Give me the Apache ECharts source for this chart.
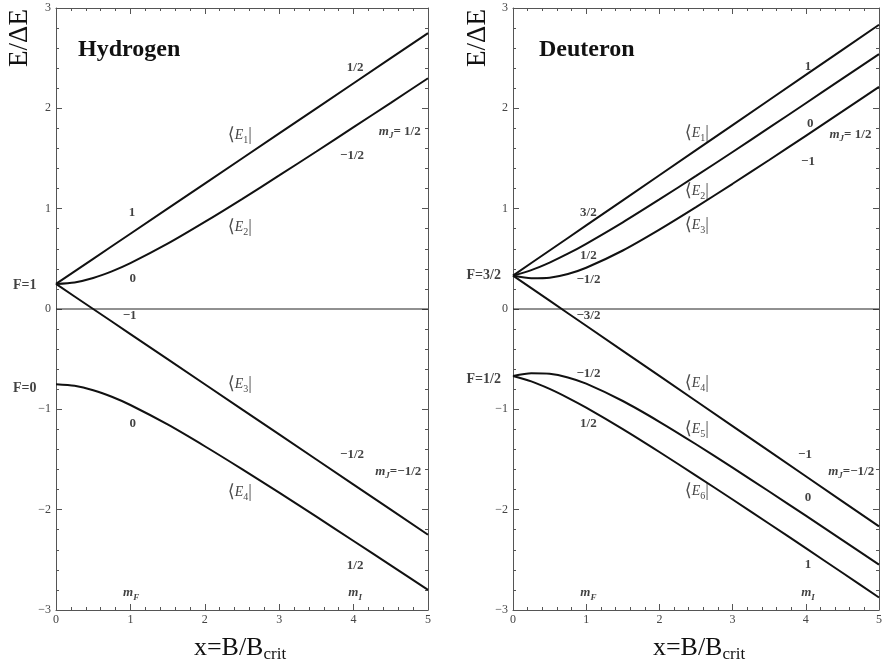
<!DOCTYPE html>
<html>
<head>
<meta charset="utf-8">
<script src="https://cdn.jsdelivr.net/npm/echarts@6/dist/echarts.min.js"></script>
<style>
  html, body { margin: 0; padding: 0; background: #fff; }
  #chart { width: 885px; height: 669px; }
</style>
</head>
<body>
<div id="chart"></div>
<script>
// field values x = B/Bcrit
const xs = [0, 0.25, 0.5, 0.75, 1, 1.5, 2, 2.5, 3, 3.5, 4, 4.5, 5];

// Hydrogen, E/ΔE
const hF1m1 = [0.25, 0.375, 0.5, 0.625, 0.75, 1.0, 1.25, 1.5, 1.75, 2.0, 2.25, 2.5, 2.75];
const hF1m0 = [0.25, 0.265, 0.309, 0.375, 0.457, 0.651, 0.868, 1.096, 1.331, 1.57, 1.812, 2.055, 2.3];
const hF1mm1 = [0.25, 0.125, 0, -0.125, -0.25, -0.5, -0.75, -1.0, -1.25, -1.5, -1.75, -2.0, -2.25];
const hF0m0 = [-0.75, -0.765, -0.809, -0.875, -0.957, -1.151, -1.368, -1.596, -1.831, -2.07, -2.312, -2.555, -2.8];

// Deuteron, E/ΔE
const dF32m32 = [0.333, 0.458, 0.583, 0.708, 0.833, 1.083, 1.333, 1.583, 1.833, 2.083, 2.333, 2.583, 2.833];
const dF32m12 = [0.333, 0.388, 0.463, 0.551, 0.65, 0.864, 1.092, 1.326, 1.565, 1.807, 2.051, 2.296, 2.541];
const dF32mm12 = [0.333, 0.307, 0.312, 0.349, 0.411, 0.583, 0.791, 1.015, 1.248, 1.485, 1.726, 1.969, 2.214];
const dF32mm32 = [0.333, 0.208, 0.083, -0.042, -0.167, -0.417, -0.667, -0.917, -1.167, -1.417, -1.667, -1.917, -2.167];
const dF12mm12 = [-0.667, -0.64, -0.645, -0.682, -0.744, -0.917, -1.124, -1.348, -1.581, -1.819, -2.06, -2.303, -2.547];
const dF12m12 = [-0.667, -0.721, -0.796, -0.885, -0.983, -1.197, -1.425, -1.66, -1.899, -2.14, -2.384, -2.629, -2.875];

const zeroXs = [0, 5];
const zeroYs = [0, 0];

// annotations [x, y, text]
const hLabels = [
  [4.02, 2.41, '{n|1/2}'],
  [2.47, 1.73, '{br|⟨}{e|E}{s|1}{br||}'],
  [4.62, 1.77, '{m|m}{j|J}{n|= 1/2}'],
  [3.98, 1.53, '{n|−1/2}'],
  [1.02, 0.96, '{n|1}'],
  [2.47, 0.81, '{br|⟨}{e|E}{s|2}{br||}'],
  [-0.42, 0.24, '{f|F=1}'],
  [1.03, 0.30, '{n|0}'],
  [0.99, -0.07, '{n|−1}'],
  [-0.42, -0.79, '{f|F=0}'],
  [2.47, -0.75, '{br|⟨}{e|E}{s|3}{br||}'],
  [1.03, -1.14, '{n|0}'],
  [3.98, -1.45, '{n|−1/2}'],
  [4.60, -1.62, '{m|m}{j|J}{n|=−1/2}'],
  [2.47, -1.83, '{br|⟨}{e|E}{s|4}{br||}'],
  [4.02, -2.56, '{n|1/2}'],
  [1.01, -2.83, '{m|m}{j|F}'],
  [4.02, -2.83, '{m|m}{j|I}']
];

const dLabels = [
  [4.03, 2.42, '{n|1}'],
  [2.51, 1.75, '{br|⟨}{e|E}{s|1}{br||}'],
  [4.06, 1.85, '{n|0}'],
  [4.61, 1.74, '{m|m}{j|J}{n|= 1/2}'],
  [4.03, 1.47, '{n|−1}'],
  [2.51, 1.17, '{br|⟨}{e|E}{s|2}{br||}'],
  [1.03, 0.96, '{n|3/2}'],
  [2.51, 0.83, '{br|⟨}{e|E}{s|3}{br||}'],
  [1.03, 0.53, '{n|1/2}'],
  [-0.40, 0.33, '{f|F=3/2}'],
  [1.03, 0.29, '{n|−1/2}'],
  [1.03, -0.07, '{n|−3/2}'],
  [-0.40, -0.70, '{f|F=1/2}'],
  [1.03, -0.64, '{n|−1/2}'],
  [2.51, -0.74, '{br|⟨}{e|E}{s|4}{br||}'],
  [1.03, -1.14, '{n|1/2}'],
  [2.51, -1.20, '{br|⟨}{e|E}{s|5}{br||}'],
  [3.99, -1.45, '{n|−1}'],
  [4.62, -1.62, '{m|m}{j|J}{n|=−1/2}'],
  [2.51, -1.82, '{br|⟨}{e|E}{s|6}{br||}'],
  [4.03, -1.88, '{n|0}'],
  [4.03, -2.55, '{n|1}'],
  [1.03, -2.83, '{m|m}{j|F}'],
  [4.03, -2.83, '{m|m}{j|I}']
];

const serif = "'Liberation Serif', 'DejaVu Serif', serif";
const axisColor = '#555';

const rich = {
  n: { fontFamily: serif, fontWeight: 'bold', fontSize: 13, color: '#111', lineHeight: 18 },
  f: { fontFamily: serif, fontWeight: 'bold', fontSize: 14, color: '#111', lineHeight: 18 },
  br: { fontFamily: serif, fontSize: 18, color: '#222', lineHeight: 20 },
  e: { fontFamily: serif, fontStyle: 'italic', fontSize: 14, color: '#111', lineHeight: 20 },
  s: { fontFamily: serif, fontSize: 10, color: '#111', lineHeight: 12, verticalAlign: 'bottom' },
  m: { fontFamily: serif, fontStyle: 'italic', fontWeight: 'bold', fontSize: 13, color: '#111', lineHeight: 18 },
  j: { fontFamily: serif, fontStyle: 'italic', fontWeight: 'bold', fontSize: 9, color: '#111', lineHeight: 12, verticalAlign: 'bottom' }
};

function pairs(x, y) {
  return x.map((v, i) => [v, y[i]]);
}

// straight levels need no smoothing, the curved ones get a light spline
function curve(vals, g, bent) {
  return {
    type: 'line', xAxisIndex: g * 2, yAxisIndex: g * 2,
    data: pairs(xs, vals), showSymbol: false, smooth: bent ? 0.25 : false,
    lineStyle: { color: '#111', width: 2 }, silent: true
  };
}

function zeroLine(g) {
  return {
    type: 'line', xAxisIndex: g * 2, yAxisIndex: g * 2,
    data: pairs(zeroXs, zeroYs), showSymbol: false,
    lineStyle: { color: '#222', width: 1 }, silent: true
  };
}

function labels(list, g) {
  return {
    type: 'scatter', xAxisIndex: g * 2, yAxisIndex: g * 2, clip: false,
    symbolSize: 1, itemStyle: { color: 'rgba(0,0,0,0)' }, silent: true,
    data: list.map(l => ({ value: [l[0], l[1]], name: l[2] })),
    label: { show: true, position: 'inside', formatter: p => p.name, rich: rich }
  };
}

function xAx(g, pos, showLabel) {
  return {
    type: 'value', gridIndex: g, position: pos, min: 0, max: 5, interval: 1,
    axisLine: { show: true, onZero: false, lineStyle: { color: axisColor, width: 1 } },
    axisTick: { show: true, inside: true, length: 6, lineStyle: { color: axisColor } },
    minorTick: { show: true, splitNumber: 5, length: 3, lineStyle: { color: axisColor } },
    splitLine: { show: false },
    axisLabel: { show: showLabel, color: '#444', fontFamily: serif, fontSize: 12, margin: 4 }
  };
}

function yAx(g, pos, showLabel) {
  return {
    type: 'value', gridIndex: g, position: pos, min: -3, max: 3, interval: 1,
    axisLine: { show: true, onZero: false, lineStyle: { color: axisColor, width: 1 } },
    axisTick: { show: true, inside: true, length: 6, lineStyle: { color: axisColor } },
    minorTick: { show: true, splitNumber: 5, length: 3, lineStyle: { color: axisColor } },
    splitLine: { show: false },
    axisLabel: {
      show: showLabel, color: '#444', fontFamily: serif, fontSize: 12, margin: 5,
      formatter: v => (v < 0 ? '−' + (-v) : String(v))
    }
  };
}

function axisTitleY(x) {
  return {
    type: 'text', x: x, y: 38, rotation: Math.PI / 2,
    style: {
      text: 'E/ΔE', font: "27px 'Liberation Serif', serif", fill: '#111',
      align: 'center', verticalAlign: 'middle', textAlign: 'center', textVerticalAlign: 'middle'
    }
  };
}

function axisTitleX(x) {
  return {
    type: 'text', x: x, y: 648,
    style: {
      text: '{a|x=B/B}{b|crit}', fill: '#111',
      align: 'center', verticalAlign: 'middle', textAlign: 'center', textVerticalAlign: 'middle',
      rich: {
        a: { fontFamily: serif, fontSize: 26, color: '#111', lineHeight: 30 },
        b: { fontFamily: serif, fontSize: 17, color: '#111', lineHeight: 20, verticalAlign: 'bottom' }
      }
    }
  };
}

function title(x, text) {
  return {
    type: 'text', x: x, y: 50,
    style: {
      text: text, font: "bold 24px 'Liberation Serif', serif", fill: '#111',
      align: 'left', verticalAlign: 'middle', textAlign: 'left', textVerticalAlign: 'middle'
    }
  };
}

const chart = echarts.init(document.getElementById('chart'));
chart.setOption({
  animation: false,
  backgroundColor: '#fff',
  grid: [
    { left: 56, top: 8, width: 372, height: 602 },
    { left: 513, top: 8, width: 372, height: 602 }
  ],
  xAxis: [xAx(0, 'bottom', true), xAx(0, 'top', false), xAx(1, 'bottom', true), xAx(1, 'top', false)],
  yAxis: [yAx(0, 'left', true), yAx(0, 'right', false), yAx(1, 'left', true), yAx(1, 'right', false)],
  series: [
    zeroLine(0),
    curve(hF1m1, 0, false), curve(hF1m0, 0, true), curve(hF1mm1, 0, false), curve(hF0m0, 0, true),
    labels(hLabels, 0),
    zeroLine(1),
    curve(dF32m32, 1, false), curve(dF32m12, 1, true), curve(dF32mm12, 1, true), curve(dF32mm32, 1, false),
    curve(dF12mm12, 1, true), curve(dF12m12, 1, true),
    labels(dLabels, 1)
  ],
  graphic: [
    title(78, 'Hydrogen'), title(539, 'Deuteron'),
    axisTitleY(20), axisTitleY(478),
    axisTitleX(240), axisTitleX(699)
  ]
});
</script>
</body>
</html>
